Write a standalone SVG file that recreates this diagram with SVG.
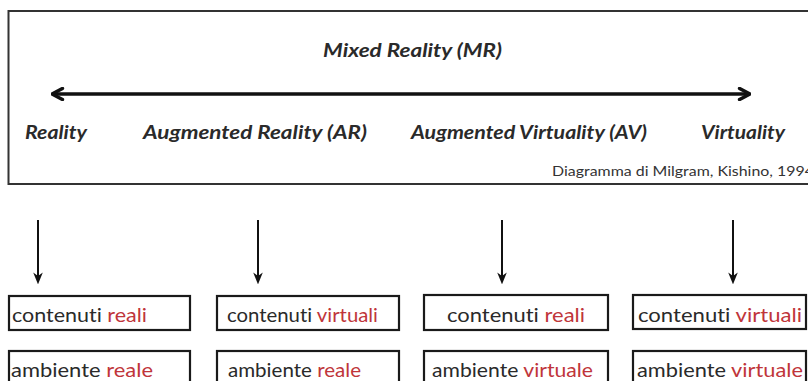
<svg xmlns="http://www.w3.org/2000/svg" width="808" height="381" viewBox="0 0 808 381">
<style>
text{font-variant-ligatures:none;font-feature-settings:"liga" 0,"clig" 0}
.frame{fill:#fff;stroke:#333;stroke-width:2}
.box{fill:#fff;stroke:#1a1a1a;stroke-width:2.2}
.lbl{font-family:Lato,"Open Sans",sans-serif;font-weight:bold;font-style:italic;font-size:18px;fill:#2a2a2a}
.note{font-family:Lato,"Open Sans",sans-serif;font-size:13px;fill:#333}
.t{font-family:Lato,"Open Sans",sans-serif;font-size:19px;fill:#2a2a2a}
.r{fill:#c0353a}
.ln{stroke:#111;fill:none}
</style>
<defs>
<marker id="ah" viewBox="0 0 10 10" refX="9" refY="5" markerWidth="4" markerHeight="4" markerUnits="strokeWidth" orient="auto-start-reverse">
<path d="M1.5,1 L9,5 L1.5,9" fill="none" stroke="#111" stroke-width="2.4" stroke-linecap="round" stroke-linejoin="round"/>
</marker>
<marker id="dh" viewBox="0 0 10 10" refX="8" refY="5" markerWidth="6" markerHeight="6" orient="auto">
<path d="M0,1 L10,5 L0,9 L3,5 Z" fill="#111"/>
</marker>
</defs>
<rect width="808" height="381" fill="#fff"/>
<g id="spectrum">
<rect class="frame" x="8.5" y="11" width="820" height="173"/>
<text class="lbl" x="323" y="57" textLength="179" lengthAdjust="spacingAndGlyphs">Mixed Reality  (MR)</text>
<text class="lbl" x="25" y="139" textLength="62" lengthAdjust="spacingAndGlyphs">Reality</text>
<text class="lbl" x="143" y="139" textLength="224" lengthAdjust="spacingAndGlyphs">Augmented Reality  (AR)</text>
<text class="lbl" x="411" y="139" textLength="236" lengthAdjust="spacingAndGlyphs">Augmented Virtuality (AV)</text>
<text class="lbl" x="701" y="139" textLength="84" lengthAdjust="spacingAndGlyphs">Virtuality</text>
<text class="note" x="552" y="176" textLength="262" lengthAdjust="spacingAndGlyphs">Diagramma di Milgram, Kishino, 1994</text>
</g>
<g id="connectors">
<line class="ln" x1="52" y1="94" x2="750" y2="94" stroke-width="3.5" marker-start="url(#ah)" marker-end="url(#ah)"/>
<line class="ln" x1="38" y1="220" x2="38" y2="282" stroke-width="2" marker-end="url(#dh)"/>
<line class="ln" x1="258" y1="220" x2="258" y2="282" stroke-width="2" marker-end="url(#dh)"/>
<line class="ln" x1="502" y1="220" x2="502" y2="282" stroke-width="2" marker-end="url(#dh)"/>
<line class="ln" x1="733" y1="220" x2="733" y2="282" stroke-width="2" marker-end="url(#dh)"/>
</g>
<g id="c1">
<rect class="box" x="9" y="296" width="181" height="34"/>
<text class="t" x="12" y="322" textLength="135" lengthAdjust="spacingAndGlyphs">contenuti <tspan class="r">reali</tspan></text>
<rect class="box" x="9" y="351" width="181" height="40"/>
<text class="t" x="11" y="377" textLength="142" lengthAdjust="spacingAndGlyphs">ambiente <tspan class="r">reale</tspan></text>
</g>
<g id="c2">
<rect class="box" x="217" y="296" width="182" height="34"/>
<text class="t" x="227" y="322" textLength="151" lengthAdjust="spacingAndGlyphs">contenuti <tspan class="r">virtuali</tspan></text>
<rect class="box" x="217" y="351" width="182" height="40"/>
<text class="t" x="228" y="377" textLength="133" lengthAdjust="spacingAndGlyphs">ambiente <tspan class="r">reale</tspan></text>
</g>
<g id="c3">
<rect class="box" x="424" y="295" width="184" height="35"/>
<text class="t" x="447" y="322" textLength="138" lengthAdjust="spacingAndGlyphs">contenuti <tspan class="r">reali</tspan></text>
<rect class="box" x="424" y="351" width="184" height="40"/>
<text class="t" x="432" y="377" textLength="161" lengthAdjust="spacingAndGlyphs">ambiente <tspan class="r">virtuale</tspan></text>
</g>
<g id="c4">
<rect class="box" x="633" y="295" width="173" height="34"/>
<text class="t" x="638" y="322" textLength="164" lengthAdjust="spacingAndGlyphs">contenuti <tspan class="r">virtuali</tspan></text>
<rect class="box" x="633" y="351" width="173" height="40"/>
<text class="t" x="637" y="377" textLength="166" lengthAdjust="spacingAndGlyphs">ambiente <tspan class="r">virtuale</tspan></text>
</g>
</svg>
